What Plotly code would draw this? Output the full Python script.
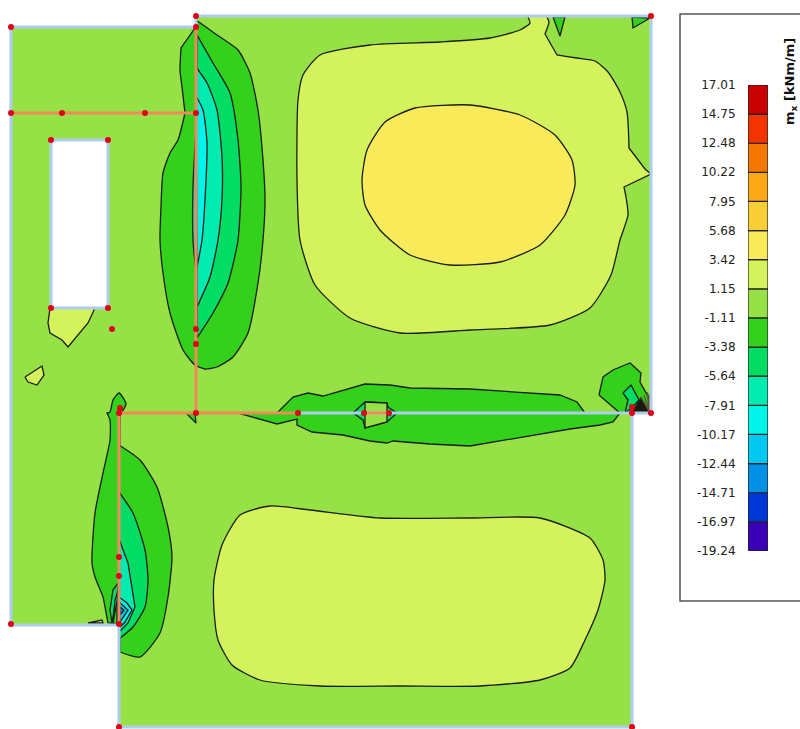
import plotly.graph_objects as go

# ---------- legend data ----------
LEVELS = [-19.24,-16.97,-14.71,-12.44,-10.17,-7.91,-5.64,-3.38,-1.11,1.15,3.42,5.68,7.95,10.22,12.48,14.75,17.01]
LEVEL_LABELS = [f"{v:.2f}" for v in LEVELS]
BAND_COLORS = ["#3A00B8","#0038D8","#0090E6","#00C8F0","#00F5E8","#00EBB0","#00DC64","#33D11C",
               "#96E246","#D4F25C","#F9EA5A","#F9CF38","#FBA916","#F27800","#F23500","#C80000"]
C_PLATE="#96E246"; C_P1="#D4F25C"; C_P2="#F9EA5A"
C_M1="#33D11C"; C_M2="#00DC64"; C_M3="#00EBB0"; C_M4="#00F5E8"; C_M5="#00C8F0"; C_M6="#0090E6"

# ---------- geometry ----------
plate_x=[11,196,196,651,651,632,632,119,119,11,11]
plate_y=[27,27,16,16,413,413,727,727,625,625,27]
hole_x=[51,108,108,51,51]
hole_y=[140,140,308,308,140]

big_p1_x=[547,547,549,545,545,557,557,577,595,608,620,627,629,629,645,645,651,651,624,624,626,628,620,611,590,550,470,400,350,315,300,297,298,303,320,370,440,490,520,530,528,528]
big_p1_y=[17,17,22,34,34,55,55,58,61,72,92,112,148,148,169,169,174,174,187,187,197,215,240,275,308,325,330,333,318,285,240,180,100,75,55,45,42,38,30,23,17,17]
big_p2_x=[362,367,385,415,470,520,555,572,575,565,540,500,450,410,380,365,362]
big_p2_y=[180,150,122,108,105,115,135,160,185,215,245,262,265,255,230,205,180]
low_p1_x=[214,222,240,270,310,380,470,540,590,603,605,598,585,570,540,480,400,320,260,232,218,214,214]
low_p1_y=[580,545,515,506,510,518,518,518,538,560,580,610,640,668,680,686,686,686,680,665,640,610,580]
small_p1a_x=[50,48,50,62,68,88,95,50]
small_p1a_y=[308,323,333,340,347,323,308,308]
small_p1b_x=[25,42,44,37,28,25]
small_p1b_y=[377,366,375,385,382,377]
small_p1c_x=[88,102,103,88]
small_p1c_y=[623,620,623,623]

oval_m1_x=[196,196,217,238,250,258,263,265,263,258,248,233,217,205,195,183,170,163,160,161,163,170,178,185,185,182,180,181,181,195,195,196,196]
oval_m1_y=[20,20,35,50,73,110,160,200,240,283,333,357,367,369,365,350,313,273,240,207,173,153,140,113,113,87,70,48,48,28,28,20,20]
oval_m2_x=[197,197,213,230,238,241,238,228,213,197,197,197,197]
oval_m2_y=[35,35,63,93,140,187,240,283,313,338,338,35,35]
oval_m3_x=[196,196,207,217,222,222,218,210,197,197,196,196]
oval_m3_y=[67,67,83,110,157,200,240,277,307,307,67,67]
oval_m4_x=[196,196,203,207,205,202,197,197,196,196]
oval_m4_y=[96,96,110,143,200,240,267,267,96,96]
oval_left_x=[196,196,193,193,196,196,196,196]
oval_left_y=[127,127,187,240,272,272,127,127]

low_left_x=[119,126,120,120,119,119,108,108,105,103,95,92,95,103,110,110,107,107,110,113,119]
low_left_y=[393,404,415,415,624,624,623,623,607,597,577,563,513,473,440,420,413,413,412,400,393]
low_r1_x=[119,119,140,157,168,172,168,160,140,120,120,119,119]
low_r1_y=[445,445,460,487,527,557,597,633,657,652,652,445,445]
low_r2_x=[119,119,133,145,148,145,133,119,119,119,119]
low_r2_y=[492,492,513,550,580,607,627,639,639,492,492]
low_r3_x=[119,128,135,135,128,119,119]
low_r3_y=[539,563,607,607,623,632,539]
low_r4_x=[119,127,132,125,119,119]
low_r4_y=[597,603,610,622,628,597]
low_r5_x=[119,128,120,119]
low_r5_y=[602,610,622,602]
low_r6_x=[120,124,120,120]
low_r6_y=[607,610,615,607]
low_l2_x=[119,113,110,112,119]
low_l2_y=[582,590,610,623,582]
low_l3_x=[119,115,113,119]
low_l3_y=[590,600,623,590]
low_l4_x=[119,117,117,119]
low_l4_y=[597,607,623,597]

band_x=[238,277,293,308,323,345,365,390,410,470,560,577,585,620,613,600,570,470,430,393,387,370,343,312,297,297,277,238]
band_y=[413,413,397,393,396,390,384,385,388,389,395,402,413,413,422,425,429,446,444,441,443,441,435,432,425,419,424,413]
band_m2_x=[353,365,387,388,397,389,387,365,363,353]
band_m2_y=[413,402,403,407,413,420,422,428,420,413]
band_in_x=[365,387,387,365,365]
band_in_y=[402,403,422,428,402]

corner_m1_x=[599,603,613,630,641,640,650,650,620,599]
corner_m1_y=[395,377,370,363,373,382,400,413,413,395]
corner_m2_x=[623,631,639,633,625,628,623]
corner_m2_y=[393,385,400,407,413,400,393]
corner_k_x=[632,650,641,632]
corner_k_y=[413,413,398,413]

tri_a_x=[553,560,565,553]
tri_a_y=[17,36,17,17]
tri_b_x=[632,633,650,632]
tri_b_y=[17,28,18,17]
tri_c_x=[186,196,195,186]
tri_c_y=[413,423,414,413]

spike_x=[650,647,None,650,644,None,650,641,None,650,649]
spike_y=[413,392,None,413,395,None,413,397,None,413,394]

orange_a_x=[11,196]; orange_a_y=[113,113]
orange_b_x=[196,196,119,119]; orange_b_y=[27,413,413,625]
orange_c_x=[196,298]; orange_c_y=[413,413]
orange_d_x=[364,389]; orange_d_y=[413,413]
inner_blue_x=[298,632]; inner_blue_y=[413,413]

node_x=[11,196,196,651,11,62,145,196,51,108,51,108,112,196,196,120,119,196,298,364,389,632,632,651,119,119,119,11,119,632]
node_y=[27,16,27,16,113,113,113,113,140,140,308,308,329,329,344,408,413,413,413,413,413,413,407,413,557,576,624,624,727,727]

fig=go.Figure()

def poly(x,y,fill,line="#1c1c1c",w=1.3,smooth=False):
    fig.add_trace(go.Scatter(x=x,y=y,mode="lines",fill="toself",fillcolor=fill,
        line=dict(color=line,width=w,shape="spline" if smooth else "linear",smoothing=0.6),
        hoverinfo="skip",showlegend=False))

def stroke(x,y,color,w):
    fig.add_trace(go.Scatter(x=x,y=y,mode="lines",line=dict(color=color,width=w),
        hoverinfo="skip",showlegend=False))

poly(plate_x,plate_y,C_PLATE,"rgba(0,0,0,0)",0)
poly(big_p1_x,big_p1_y,C_P1,smooth=True)
poly(big_p2_x,big_p2_y,C_P2,smooth=True)
poly(low_p1_x,low_p1_y,C_P1,smooth=True)
for xs,ys in [(small_p1a_x,small_p1a_y),(small_p1b_x,small_p1b_y),(small_p1c_x,small_p1c_y)]:
    poly(xs,ys,C_P1)
for xs,ys,c in [(oval_m1_x,oval_m1_y,C_M1),(oval_m2_x,oval_m2_y,C_M2),(oval_m3_x,oval_m3_y,C_M3),
    (oval_m4_x,oval_m4_y,C_M4),(oval_left_x,oval_left_y,C_M3),
    (low_left_x,low_left_y,C_M1),(low_r1_x,low_r1_y,C_M1),(low_r2_x,low_r2_y,C_M2)]:
    poly(xs,ys,c,smooth=True)
for xs,ys,c in [(tri_a_x,tri_a_y,C_M1),(tri_b_x,tri_b_y,C_M1),(tri_c_x,tri_c_y,C_M1),
    (low_l2_x,low_l2_y,C_M2),(low_l3_x,low_l3_y,C_M3),(low_l4_x,low_l4_y,C_M4),
    (low_r3_x,low_r3_y,C_M3),(low_r4_x,low_r4_y,C_M4),(low_r5_x,low_r5_y,C_M5),(low_r6_x,low_r6_y,C_M6),
    (band_x,band_y,C_M1),(band_m2_x,band_m2_y,C_M2),(band_in_x,band_in_y,C_PLATE),
    (corner_m1_x,corner_m1_y,C_M1),(corner_m2_x,corner_m2_y,C_M2),(corner_k_x,corner_k_y,"#1a1a10")]:
    poly(xs,ys,c)
stroke(spike_x,spike_y,"#5a5a30",1.5)

poly(hole_x,hole_y,"#ffffff","#AECDEE",3)
stroke(plate_x,plate_y,"#AECDEE",3)
stroke(inner_blue_x,inner_blue_y,"#AECDEE",3)
stroke(orange_a_x,orange_a_y,"#F08A5D",3)
stroke(orange_b_x,orange_b_y,"#F08A5D",3)
stroke(orange_c_x,orange_c_y,"#F08A5D",3)
stroke(orange_d_x,orange_d_y,"#F08A5D",3)
fig.add_trace(go.Scatter(x=node_x,y=node_y,mode="markers",marker=dict(color="#E0001A",size=6),
    hoverinfo="skip",showlegend=False))

# colour legend
fig.add_trace(go.Bar(x=["s"]*16,y=[LEVELS[i+1]-LEVELS[i] for i in range(16)],base=LEVELS[:-1],
    marker=dict(color=BAND_COLORS,line=dict(color="#222",width=1.2)),width=1,
    hoverinfo="skip",showlegend=False,xaxis="x2",yaxis="y2"))

W,H=800,729
fig.update_layout(
    template="none",
    width=W,height=H,margin=dict(l=0,r=0,t=0,b=0),paper_bgcolor="white",plot_bgcolor="rgba(0,0,0,0)",
    showlegend=False,barmode="overlay",
    xaxis=dict(range=[0,W],domain=[0,1],visible=False,fixedrange=True,automargin=False),
    yaxis=dict(range=[H,0],domain=[0,1],visible=False,fixedrange=True,automargin=False),
    xaxis2=dict(domain=[748/W,768/W],range=[-0.5,0.5],visible=False,anchor="y2",type="category",fixedrange=True,automargin=False),
    yaxis2=dict(domain=[(H-551)/H,(H-85)/H],range=[LEVELS[0],LEVELS[-1]],anchor="x2",side="left",automargin=False,
        tickmode="array",tickvals=LEVELS,ticktext=LEVEL_LABELS,ticks="outside",ticklen=9,tickcolor="rgba(0,0,0,0)",
        tickfont=dict(family="DejaVu Sans",size=12,color="#222"),showgrid=False,zeroline=False,showline=False,fixedrange=True),
    shapes=[dict(type="rect",xref="x",yref="y",x0=680,y0=14,x1=815,y1=601,line=dict(color="#555",width=1.5),
                 fillcolor="white",layer="below")],
    annotations=[dict(text="<b>m<sub>x</sub> [kNm/m]</b>",xref="x",yref="y",x=790,y=82,textangle=-90,showarrow=False,
                      font=dict(family="DejaVu Sans",size=13,color="#111"))],
)
fig.write_html("out.html",config=dict(displayModeBar=False),
    post_script="document.body.style.margin='0';document.body.style.overflow='hidden';")
